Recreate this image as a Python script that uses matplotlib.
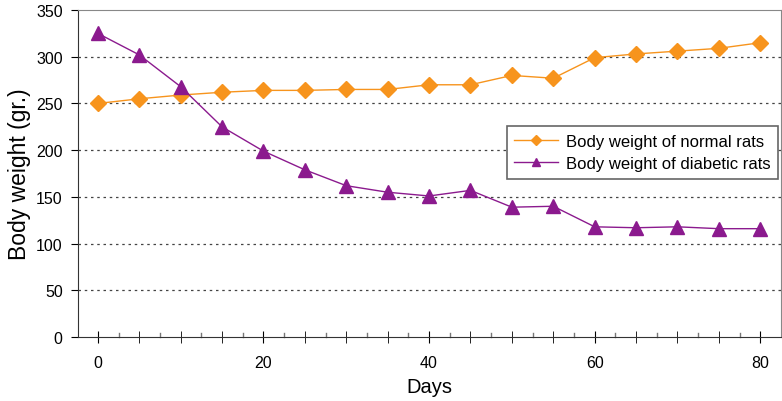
import numpy as np
import matplotlib.pyplot as plt

plt.rcParams['font.family'] = ['Liberation Sans', 'DejaVu Sans']

days = [0, 5, 10, 15, 20, 25, 30, 35, 40, 45, 50, 55, 60, 65, 70, 75, 80]
normal = [250, 255, 259, 262, 264, 264, 265, 265, 270, 270, 280, 277, 299, 303, 306, 309, 315]
diabetic = [325, 302, 268, 225, 199, 179, 162, 155, 151, 157, 139, 140, 118, 117, 118, 116, 116]

fig = plt.figure(figsize=(7.82, 4.02), dpi=100)
ax = fig.add_axes([0.0997, 0.159, 0.8990, 0.8136])

ax.plot(days, normal, color='#F7941D', lw=1.0, marker='D', ms=8.5,
        label='Body weight of normal rats')
ax.plot(days, diabetic, color='#8B1A8E', lw=1.0, marker='^', ms=10,
        label='Body weight of diabetic rats')

ax.set_xlim(-2.4, 82.5)
ax.set_ylim(0, 350)
ax.set_yticks(np.arange(0, 351, 50))
ax.set_xticks([0, 20, 40, 60, 80])
ax.set_xticks(np.arange(0, 81, 5), minor=True)
ax.tick_params(axis='x', which='major', direction='inout', length=8, labelsize=11.5, pad=9)
ax.tick_params(axis='x', which='minor', direction='inout', length=8)
ax.tick_params(axis='y', direction='out', length=5, labelsize=11.5, pad=6)

# in-only ticks between the 5-day marks
for x in np.arange(2.5, 81, 5):
    ax.plot([x, x], [0, 4], color='#777777', lw=1.0, clip_on=False, zorder=1)

for y in range(50, 301, 50):
    ax.axhline(y, color='#444444', lw=0.9, ls=(0, (2, 3)), zorder=0)

for s in ['top', 'right']:
    ax.spines[s].set_color('#888888')
ax.spines['left'].set_color('#333333')
ax.spines['bottom'].set_color('#333333')

ax.set_xlabel('Days', fontsize=14.5, labelpad=5)
ax.set_ylabel('Body weight (gr.)', fontsize=16.5, labelpad=4)

leg = ax.legend(loc='upper right', bbox_to_anchor=(0.9957, 0.645), fontsize=12,
                fancybox=False, edgecolor='#666666', framealpha=1, handlelength=2.6,
                markerscale=0.6, borderpad=0.45, labelspacing=0.45, handletextpad=0.5,
                borderaxespad=0)
leg.get_frame().set_linewidth(1.2)

fig.savefig('out.png', dpi=100)
